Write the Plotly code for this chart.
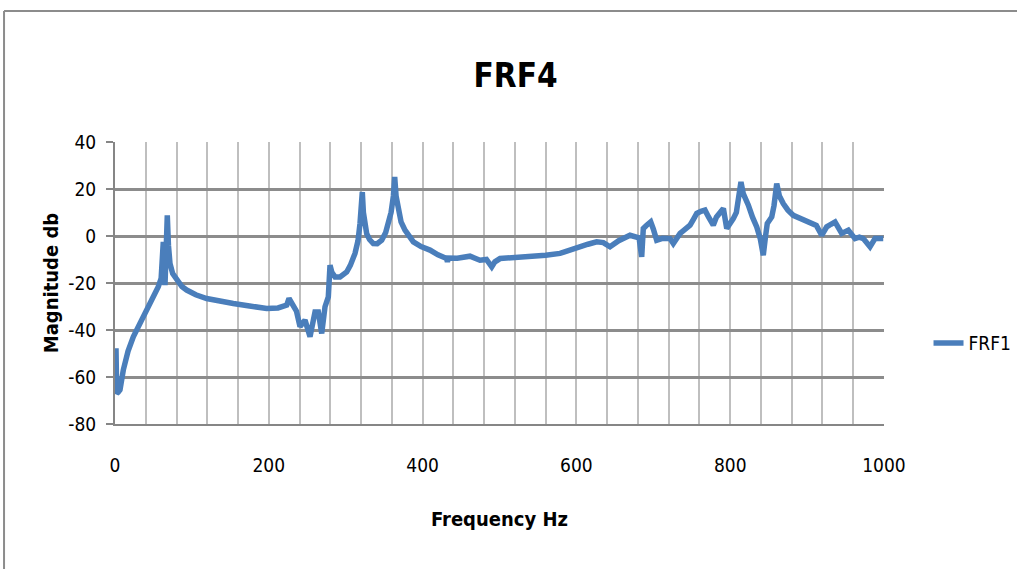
import plotly.graph_objects as go

# ----- data -----
freq_hz = [
    1.3, 2.2, 4.0, 6.5, 10.8, 17.0, 23.8, 32.5, 40.0, 45.5, 52.0, 56.3, 60.0,
    62.8, 65.0, 66.5, 68.0, 69.5, 71.5, 75.0, 80.2, 87.0, 93.2, 105.0, 119.2,
    135.0, 153.8, 175.0, 197.3, 212.0, 223.3, 226.3, 231.9, 236.0, 240.6, 247.1,
    253.6, 257.0, 260.1, 264.4, 268.8, 273.1, 277.4, 279.6, 282.0, 286.1, 292.6,
    301.3, 306.0, 312.1, 316.0, 318.6, 320.5, 321.6, 323.0, 325.0, 327.3, 331.0,
    335.9, 341.0, 346.8, 352.0, 355.4, 359.0, 362.0, 363.7, 365.5, 368.4, 372.0,
    377.1, 383.0, 388.0, 398.0, 409.6, 420.0, 431.3, 432.3, 433.5, 445.0, 461.6,
    474.6, 483.0, 489.9, 494.0, 500.7, 520.0, 539.7, 560.0, 578.7, 592.0, 604.7,
    615.0, 626.4, 635.0, 643.7, 655.0, 669.7, 678.4, 681.5, 684.9, 687.0, 691.0,
    696.6, 700.0, 704.4, 712.0, 721.7, 726.0, 734.8, 740.0, 747.8, 752.0, 756.5,
    762.0, 767.2, 772.0, 778.0, 782.0, 786.8, 791.1, 795.5, 800.0, 804.0, 808.0,
    811.0, 814.0, 817.0, 820.0, 823.6, 829.0, 834.5, 839.0, 843.0, 846.0, 848.2,
    854.0, 857.0, 860.5, 864.0, 869.0, 875.0, 882.0, 893.0, 903.8, 912.0, 919.0,
    925.5, 931.0, 936.3, 945.0, 953.6, 962.3, 968.0, 973.1, 981.8, 988.3, 999.0,
]
magnitude_db = [
    -47.8, -67.0, -66.5, -65.5, -57.0, -49.0, -42.9, -37.2, -32.5, -28.7, -24.5, -21.6, -18.0,
    -2.5, -20.9, -6.0, 8.8, -4.0, -11.7, -16.0, -18.8, -21.5, -23.0, -25.0, -26.6,
    -27.8, -28.7, -29.8, -30.8, -30.6, -29.4, -26.6, -30.1, -32.0, -38.6, -35.8,
    -42.9, -36.0, -32.3, -32.3, -41.5, -30.1, -25.9, -12.4, -15.5, -17.4, -17.4,
    -15.3, -12.5, -7.4, -2.0, 5.3, 12.0, 18.7, 10.0, 4.0, 1.0, -1.5,
    -3.2, -3.3, -1.8, 1.5, 5.3, 10.0, 17.0, 25.1, 17.0, 12.4, 6.0,
    2.5, 0.0, -2.5, -4.5, -6.0, -8.0, -9.6, -11.0, -9.4, -9.5, -8.6,
    -10.3, -10.0, -13.1, -11.0, -9.6, -9.3, -8.9, -8.2, -7.4, -5.8, -4.6,
    -3.5, -2.5, -2.8, -4.6, -2.0, 0.3, -0.4, -0.8, -8.9, 3.2, 4.5,
    6.0, 3.0, -1.8, -1.0, -1.1, -3.2, 1.1, 2.5, 4.6, 7.0, 9.6,
    10.5, 11.0, 8.0, 4.6, 8.0, 10.3, 11.7, 3.2, 5.0, 7.4, 10.0,
    15.0, 23.0, 18.0, 15.0, 13.1, 8.0, 3.9, -1.0, -8.2, 0.0, 5.3,
    8.1, 13.0, 22.3, 17.0, 13.8, 11.0, 8.8, 7.0, 5.3, 4.5, 0.3,
    3.9, 5.0, 6.0, 1.1, 2.5, -1.1, -0.5, -1.1, -4.6, -1.1, -1.1,
]
y_ticks = [-80, -60, -40, -20, 0, 20, 40]
y_tick_labels = ["-80", "-60", "-40", "-20", "0", "20", "40"]
x_ticks = [0, 200, 400, 600, 800, 1000]
series_name = "FRF1"
chart_title = "FRF4"

FONT = "DejaVu Sans Condensed, Liberation Sans Narrow, sans-serif"

fig = go.Figure()
fig.add_trace(go.Scatter(
    x=freq_hz, y=magnitude_db, mode="lines", name=series_name,
    line=dict(color="#4A7EBB", width=5.5),
))

fig.update_layout(
    width=1017, height=569, autosize=False,
    margin=dict(l=115, r=133, t=142, b=145),
    paper_bgcolor="white", plot_bgcolor="white",
    title=dict(text="<b>" + chart_title + "</b>", x=0.507, xanchor="center",
               y=0.868, yanchor="middle",
               font=dict(family=FONT, size=33, color="black")),
    font=dict(family=FONT, size=19, color="black"),
    showlegend=True,
    legend=dict(xref="container", x=0.913, y=0.287, xanchor="left", yanchor="middle",
                font=dict(family=FONT, size=19, color="black"),
                bgcolor="rgba(0,0,0,0)"),
    shapes=[
        dict(type="line", xref="paper", yref="paper", x0=-0.1443, x1=1.2,
             y0=1.4645, y1=1.4645, line=dict(color="#8C8C8C", width=2)),
        dict(type="line", xref="paper", yref="paper", x0=-0.1443, x1=-0.1443,
             y0=1.4645, y1=-0.6, line=dict(color="#8C8C8C", width=2)),
    ],
)

fig.update_xaxes(
    range=[0, 1000], tickvals=x_ticks,
    showgrid=True, gridcolor="#BFBFBF", gridwidth=2,
    minor=dict(dtick=40, tick0=0, showgrid=True, gridcolor="#BFBFBF", gridwidth=2),
    showline=True, linecolor="#868686", linewidth=2, mirror=False,
    zeroline=False, ticks="", ticklabelstandoff=23,
    title=dict(text="<b>Frequency Hz</b>", standoff=37,
               font=dict(family=FONT, size=20, color="black")),
)
fig.update_yaxes(
    range=[-80, 40], tickvals=y_ticks, ticktext=y_tick_labels,
    showgrid=True, gridcolor="#8C8C8C", gridwidth=2.5,
    showline=True, linecolor="#868686", linewidth=2,
    zeroline=False, ticks="outside", ticklen=7, tickcolor="#868686", tickwidth=2,
    ticklabelstandoff=6,
    title=dict(text="<b>Magnitude db</b>", standoff=4,
               font=dict(family=FONT, size=20, color="black")),
)

fig.write_html("out.html", config={"displayModeBar": False},
               post_script="document.body.style.margin='0px';")
